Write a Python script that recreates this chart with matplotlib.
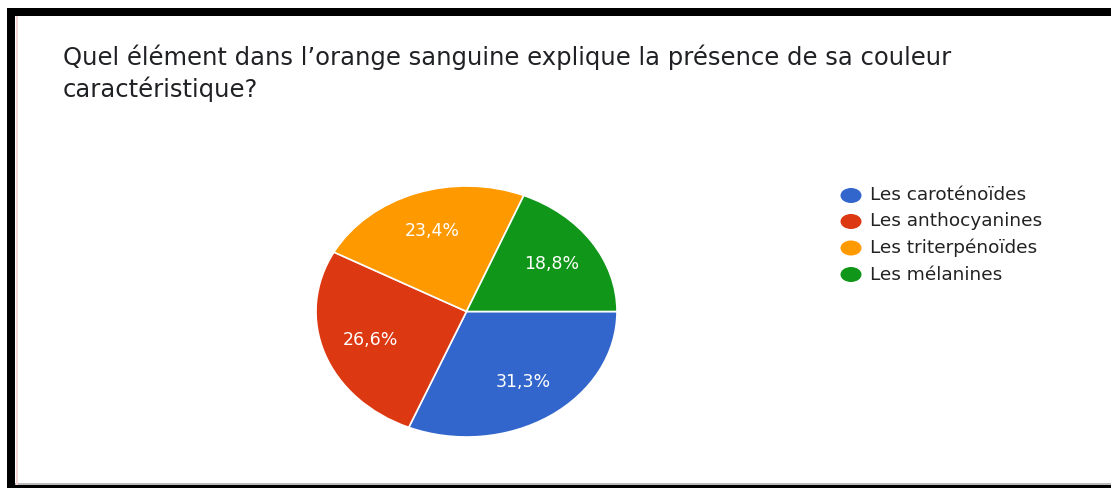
import matplotlib.pyplot as plt
from matplotlib.patches import Ellipse, Rectangle

title_lines = ["Quel élément dans l\u2019orange sanguine explique la présence de sa couleur",
               "caractéristique?"]
labels = ["Les caroténoïdes", "Les anthocyanines", "Les triterpénoïdes", "Les mélanines"]
percents = [31.3, 26.6, 23.4, 18.8]
colors = ["#3366cc", "#dc3912", "#ff9900", "#109618"]

W, H = 1111, 488
fig = plt.figure(figsize=(W / 100, H / 100), dpi=100)
fig.patch.set_facecolor("white")

def fx(px):
    return px / W

def fy(py):
    return 1 - py / H

# black frame from the screenshot
fig.add_artist(Rectangle((fx(7), fy(16)), 1, fy(8) - fy(16), transform=fig.transFigure,
                         color="black", lw=0))
fig.add_artist(Rectangle((fx(7), 0), fx(8), fy(8), transform=fig.transFigure,
                         color="black", lw=0))
fig.add_artist(Rectangle((fx(15), 0), 1, fy(485), transform=fig.transFigure,
                         color="black", lw=0))
fig.add_artist(Rectangle((fx(15), fy(485)), 1, fy(483) - fy(485), transform=fig.transFigure,
                         color="#bbbbbb", lw=0))
fig.add_artist(Rectangle((fx(16), fy(485)), fx(2), fy(16) - fy(485), transform=fig.transFigure,
                         color="#f4d6d6", lw=0))

# title
fig.text(fx(63), fy(57), title_lines[0], fontsize=17.5, color="#202124",
         va="center", ha="left")
fig.text(fx(63), fy(89), title_lines[1], fontsize=17.5, color="#202124",
         va="center", ha="left")

# pie (stretched ellipse like the screenshot)
ax = fig.add_axes([fx(316), fy(437), fx(617) - fx(316), fy(186) - fy(437)])
wedges, texts, autotexts = ax.pie(
    percents, colors=colors, startangle=0, counterclock=False,
    autopct="%.1f%%", pctdistance=0.68,
    wedgeprops=dict(edgecolor="white", linewidth=1.2),
    textprops=dict(color="white", fontsize=12.5),
)
for t, v in zip(autotexts, percents):
    t.set_text(("%.1f%%" % v).replace(".", ","))
ax.set_aspect("auto")
ax.set_xlim(-1, 1)
ax.set_ylim(-1, 1)
ax.axis("off")

# legend
rows = [195.5, 221.5, 248, 274.5]
for lab, col, y in zip(labels, colors, rows):
    fig.add_artist(Ellipse((fx(851), fy(y)), fx(21), 15 / H, transform=fig.transFigure,
                           color=col, lw=0))
    fig.text(fx(870), fy(y), lab, fontsize=13.3, color="#222222", va="center", ha="left")

fig.savefig("out.png", dpi=100)
